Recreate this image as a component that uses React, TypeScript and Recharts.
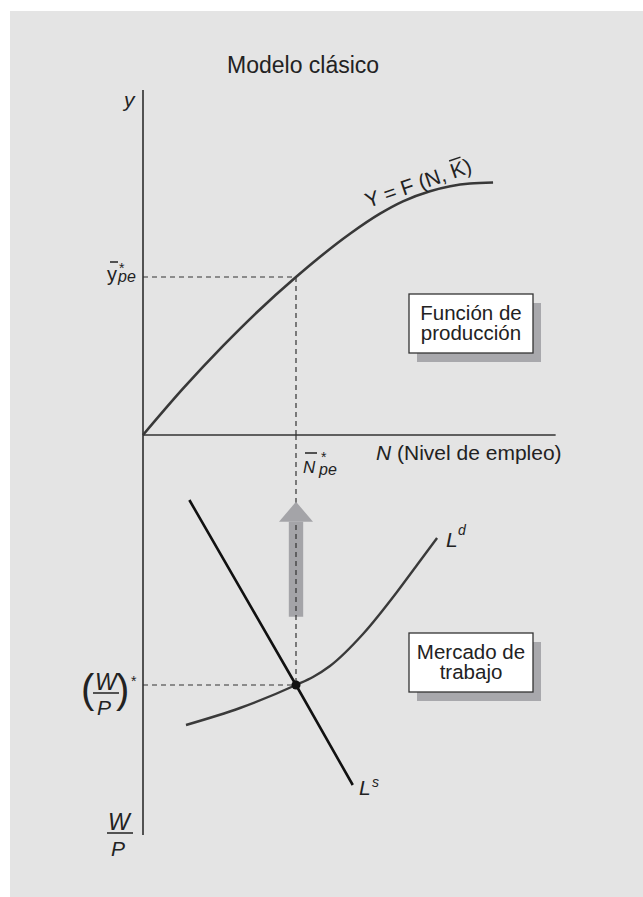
import {
  ComposedChart,
  Line,
  XAxis,
  YAxis,
  ReferenceLine,
  ReferenceArea,
  ReferenceDot,
} from 'recharts';

// Upper panel: production function Y = F(N, K)
const productionN = [0, 2.61, 5.23, 7.45, 10, 13.53, 15.49, 16.99, 18.76, 21.37, 22.88];
const productionY = [0, 2.93, 5.64, 7.77, 10, 12.74, 14.01, 14.79, 15.43, 15.92, 15.98];

// Lower panel: labour demand (Ld) and supply (Ls), W/P grows downward
const demandN = [2.81, 6.34, 10, 11.11, 12.22, 14.38, 16.6, 17.91, 19.22];
const demandW = [11.6, 10.92, 10, 9.68, 9.24, 7.96, 6.28, 5.2, 4.12];
const supplyN = [3.03, 10, 13.71];
const supplyW = [2.6, 10, 14.0];

// equilibrium values
const nStar = 10;
const yStar = 10;
const wpStar = 10;

// axis extents and the arrow (N, W/P units)
const axisTopY = 21.84;
const axisBottomWp = 16;
const axisEndN = 26.97;
const arrowN = [9.53, 10.47];
const arrowWp = [2.67, 3.47, 7.27]; // tip, head base, tail

// page mapping (pixels)
const W = 643;
const H = 897;
const ORIGIN_X = 143;
const ORIGIN_Y = 435;
const PX_N = 15.3;
const PX_Y = 15.8;
const PX_WP = 25;

const xDomain = [-ORIGIN_X / PX_N, (W - ORIGIN_X) / PX_N];
const yDomain = [-(H - ORIGIN_Y) / PX_Y, ORIGIN_Y / PX_Y];
const wpDomain = [-ORIGIN_Y / PX_WP, (H - ORIGIN_Y) / PX_WP];

const production = productionN.map((n, i) => ({ n, v: productionY[i] }));
const demand = demandN.map((n, i) => ({ n, v: demandW[i] }));
const supply = supplyN.map((n, i) => ({ n, v: supplyW[i] }));

const FONT = '"Liberation Sans", Arial, sans-serif';
const INK = '#222';
const DASH = '5 4';

const ArrowHead = (props: any) => {
  const { cx, cy } = props;
  return (
    <polygon
      points={`${cx},${cy} ${cx + 17},${cy + 20} ${cx - 17},${cy + 20}`}
      fill='#a4a4a8'
    />
  );
};

function Box({ x, y, lines, base }: { x: number; y: number; lines: string[]; base: number[] }) {
  return (
    <g>
      <rect x={x + 8} y={y + 9} width={124} height={59} fill='#a8a8ac' />
      <rect x={x} y={y} width={124} height={59} fill='#fff' stroke='#333' strokeWidth={1.3} />
      {lines.map((t, i) => (
        <text key={t} x={x + 62} y={base[i]} textAnchor='middle' fontSize={20.5} fill={INK}>
          {t}
        </text>
      ))}
    </g>
  );
}

function Labels() {
  return (
    <svg
      width={W}
      height={H}
      style={{ position: 'absolute', left: 0, top: 0, pointerEvents: 'none' }}
      fontFamily={FONT}
    >
      <text x={227} y={73} fontSize={23} fill={INK}>
        Modelo clásico
      </text>
      <text x={124} y={107} fontSize={21} fontStyle='italic' fill={INK}>
        y
      </text>

      {/* y*pe */}
      <text x={107} y={281} fontSize={20} fill={INK}>
        y
      </text>
      <line x1={110} x2={118} y1={262} y2={262} stroke={INK} strokeWidth={1.5} />
      <text x={119} y={273} fontSize={14} fill={INK}>
        *
      </text>
      <text x={118} y={282} fontSize={16} fontStyle='italic' fill={INK}>
        pe
      </text>

      {/* N*pe */}
      <text x={303} y={473} fontSize={17} fontStyle='italic' fill={INK}>
        N
      </text>
      <line x1={305} x2={317} y1={453} y2={453} stroke={INK} strokeWidth={1.5} />
      <text x={321} y={462} fontSize={14} fill={INK}>
        *
      </text>
      <text x={319} y={475} fontSize={16} fontStyle='italic' fill={INK}>
        pe
      </text>

      <text x={376} y={460} fontSize={21} fill={INK}>
        <tspan fontStyle='italic'>N</tspan> (Nivel de empleo)
      </text>

      <g transform='translate(368,208) rotate(-19)'>
        <text x={0} y={0} fontSize={21} fill={INK}>
          Y = F (N, K)
        </text>
        <line x1={92} x2={104} y1={-18} y2={-18} stroke={INK} strokeWidth={1.4} />
      </g>

      <Box x={409} y={294} lines={['Función de', 'producción']} base={[320, 340]} />
      <Box x={409} y={633} lines={['Mercado de', 'trabajo']} base={[659, 679]} />

      <text x={446} y={547} fontSize={21} fontStyle='italic' fill={INK}>
        L
      </text>
      <text x={458} y={535} fontSize={14} fontStyle='italic' fill={INK}>
        d
      </text>
      <text x={359} y={795} fontSize={21} fontStyle='italic' fill={INK}>
        L
      </text>
      <text x={372} y={787} fontSize={14} fontStyle='italic' fill={INK}>
        s
      </text>

      {/* (W/P)* */}
      <text x={81} y={703} fontSize={40} fontWeight={300} fill={INK}>
        (
      </text>
      <text x={95} y={690} fontSize={23} fontStyle='italic' fill={INK}>
        W
      </text>
      <line x1={93} x2={119} y1={693} y2={693} stroke={INK} strokeWidth={1.5} />
      <text x={97} y={715} fontSize={21} fontStyle='italic' fill={INK}>
        P
      </text>
      <text x={116} y={703} fontSize={40} fontWeight={300} fill={INK}>
        )
      </text>
      <text x={131} y={686} fontSize={14} fill={INK}>
        *
      </text>

      {/* W/P axis title */}
      <text x={108} y={830} fontSize={23} fontStyle='italic' fill={INK}>
        W
      </text>
      <line x1={107} x2={133} y1={833} y2={833} stroke={INK} strokeWidth={1.5} />
      <text x={111} y={856} fontSize={21} fontStyle='italic' fill={INK}>
        P
      </text>
    </svg>
  );
}

export default function App() {
  return (
    <div style={{ position: 'absolute', left: 0, top: 0, width: W, height: H }}>
      <div
        style={{ position: 'absolute', left: 10, top: 11, right: 0, bottom: 0, background: '#e4e4e4' }}
      />
      <div style={{ position: 'absolute', left: 0, top: 0 }}>
        <ComposedChart width={W} height={H} margin={{ top: 0, right: 0, bottom: 0, left: 0 }}>
          <XAxis type='number' dataKey='n' domain={xDomain} allowDataOverflow hide />
          <YAxis yAxisId='y' type='number' domain={yDomain} allowDataOverflow hide />
          <YAxis yAxisId='wp' type='number' domain={wpDomain} reversed allowDataOverflow hide />

          <ReferenceArea
            yAxisId='wp'
            x1={arrowN[0]}
            x2={arrowN[1]}
            y1={arrowWp[1]}
            y2={arrowWp[2]}
            fill='#a4a4a8'
            fillOpacity={1}
            stroke='none'
          />
          <ReferenceDot yAxisId='wp' x={nStar} y={arrowWp[0]} r={0} shape={ArrowHead} />

          {/* axes */}
          <ReferenceLine
            yAxisId='y'
            segment={[{ x: 0, y: axisTopY }, { x: 0, y: 0 }]}
            stroke='#222'
            strokeWidth={1.5}
          />
          <ReferenceLine
            yAxisId='wp'
            segment={[{ x: 0, y: 0 }, { x: 0, y: axisBottomWp }]}
            stroke='#222'
            strokeWidth={1.5}
          />
          <ReferenceLine
            yAxisId='y'
            segment={[{ x: 0, y: 0 }, { x: axisEndN, y: 0 }]}
            stroke='#333'
            strokeWidth={1.5}
          />

          {/* dashed guides */}
          <ReferenceLine
            yAxisId='y'
            segment={[{ x: 0, y: yStar }, { x: nStar, y: yStar }]}
            stroke='#333'
            strokeDasharray={DASH}
            strokeWidth={1.2}
          />
          <ReferenceLine
            yAxisId='y'
            segment={[{ x: nStar, y: yStar }, { x: nStar, y: 0 }]}
            stroke='#333'
            strokeDasharray={DASH}
            strokeWidth={1.2}
          />
          <ReferenceLine
            yAxisId='wp'
            segment={[{ x: nStar, y: 0 }, { x: nStar, y: wpStar }]}
            stroke='#333'
            strokeDasharray={DASH}
            strokeWidth={1.2}
          />
          <ReferenceLine
            yAxisId='wp'
            segment={[{ x: 0, y: wpStar }, { x: nStar, y: wpStar }]}
            stroke='#333'
            strokeDasharray={DASH}
            strokeWidth={1.2}
          />

          <Line
            yAxisId='y'
            data={production}
            dataKey='v'
            type='monotone'
            stroke='#383838'
            strokeWidth={2.6}
            dot={false}
            activeDot={false}
            isAnimationActive={false}
          />
          <Line
            yAxisId='wp'
            data={demand}
            dataKey='v'
            type='monotone'
            stroke='#3a3a3a'
            strokeWidth={2.4}
            dot={false}
            activeDot={false}
            isAnimationActive={false}
          />
          <Line
            yAxisId='wp'
            data={supply}
            dataKey='v'
            type='linear'
            stroke='#111'
            strokeWidth={2.6}
            dot={false}
            activeDot={false}
            isAnimationActive={false}
          />
          <ReferenceDot yAxisId='wp' x={nStar} y={wpStar} r={4.5} fill='#111' stroke='none' />
        </ComposedChart>
      </div>
      <Labels />
    </div>
  );
}
